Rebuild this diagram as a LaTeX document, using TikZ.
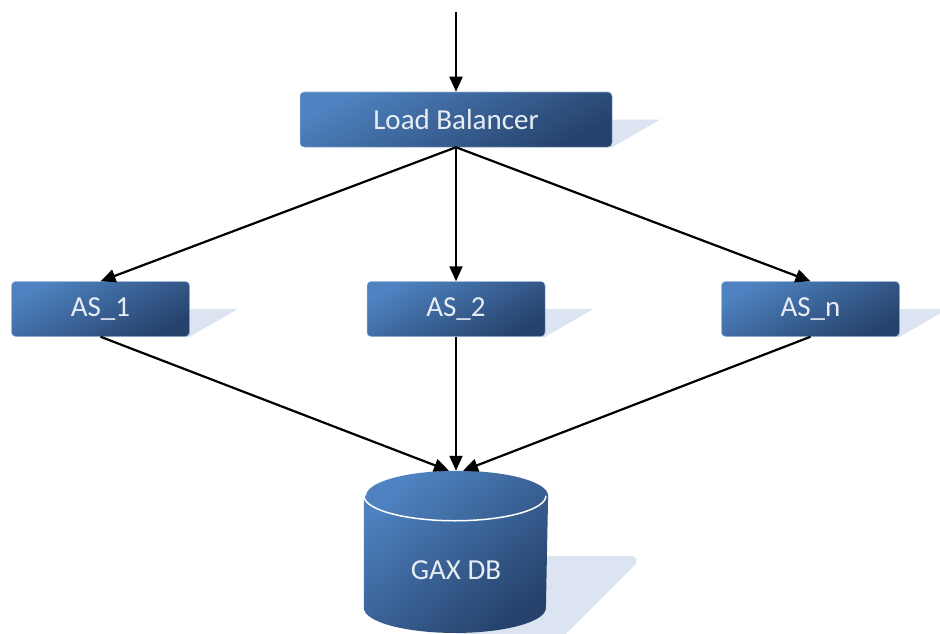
\documentclass[tikz,border=0pt]{standalone}
\usepackage{fontspec}
\setmainfont{Carlito}
\usetikzlibrary{positioning}
\usetikzlibrary{backgrounds}
\usetikzlibrary{calc}
\usetikzlibrary{arrows.meta}
\definecolor{boxlight}{RGB}{78,130,192}
\definecolor{boxdark}{RGB}{38,66,108}
\definecolor{shadowblue}{RGB}{219,228,240}
\definecolor{textwhite}{RGB}{232,237,244}

\begin{document}
\begin{tikzpicture}[x=1pt, y=-1pt,
			>={Triangle[length=15pt,width=13pt]}, line width=2.2pt,
			box/.style={rounded corners=4pt, top color=boxlight, bottom color=boxdark, shading angle=28, draw=boxlight!60!white, line width=0.5pt, text=textwhite, font=\fontsize{29}{33}\selectfont, minimum height=55pt, inner sep=0pt},
			dbfill/.style={top color=boxlight, bottom color=boxdark, shading angle=40},
			shadowpoly/.style={fill=shadowblue, draw=none}]
			\useasboundingbox (0,0) rectangle (940,634);
			\node[box, minimum width=312pt] (lb) at (456,119.5) {Load Balancer};
			\node[box, minimum width=178pt, below=134pt of lb] (as2) {AS\_2};
			\node[box, minimum width=178pt, left=177pt of as2] (as1) {AS\_1};
			\node[box, minimum width=178pt, right=176pt of as2] (asn) {AS\_n};
			\node[minimum width=182pt, minimum height=160pt, inner sep=0pt, below=134pt of as2] (db) {};
			\begin{scope}[on background layer]
				\foreach \n in {lb,as1,as2,asn}
					\fill[shadowpoly] (\n.center) -- ([xshift=48pt]\n.east) -- (\n.south east) -- (\n.south) -- cycle;
				\fill[shadowpoly, rounded corners=15pt] ($(db.center)+(0,4)$) -- ($(db.center)+(188,4)$) -- ($(db.center)+(92,100)$) -- ($(db.center)+(0,100)$) -- cycle;
			\end{scope}
			% database cylinder
			\shade[dbfill] ($(db.north west)+(0,25)$) -- ($(db.south west)+(0,-25)$) arc[start angle=180, end angle=360, x radius=91pt, y radius=25pt] -- ($(db.north east)+(0,25)$) arc[start angle=0, end angle=180, x radius=91pt, y radius=25pt] -- cycle;
			\draw[white, line width=1.5pt] ($(db.north west)+(0,25)$) arc[start angle=180, end angle=360, x radius=91pt, y radius=25pt];
			\node[text=textwhite, font=\fontsize{29}{33}\selectfont] (dbtext) at ($(db.center)+(0,18)$) {GAX DB};
			% connectors
			\coordinate (in) at (456,12);
			\draw[->] (in) -- (lb.north);
			\foreach \n in {as1,as2,asn}
				\draw[->] (lb.south) -- (\n.north);
			\draw[->] (as1.south) -- ([xshift=-7pt]db.north);
			\draw[->] (as2.south) -- (db.north);
			\draw[->] (asn.south) -- ([xshift=7pt]db.north);
\end{tikzpicture}
\end{document}
